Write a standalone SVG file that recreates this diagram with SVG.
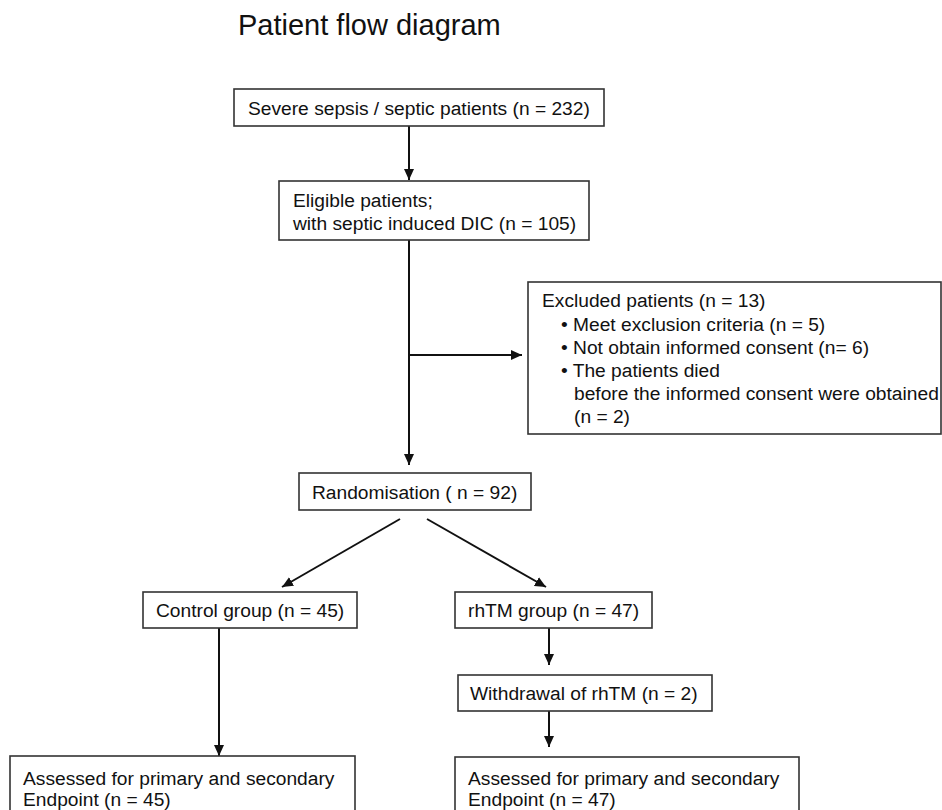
<svg xmlns="http://www.w3.org/2000/svg" width="942" height="810" viewBox="0 0 942 810">
  <style>
    .bg { fill: #ffffff; }
    .box { fill: #ffffff; stroke: #333333; stroke-width: 1.6; }
    .t { font-family: "Liberation Sans", Arial, sans-serif; font-size: 19.2px; fill: #111111; }
    .title { font-family: "Liberation Sans", Arial, sans-serif; font-size: 29px; fill: #111111; }
    .conn { stroke: #111111; stroke-width: 2; fill: none; }
  </style>
  <defs>
    <marker id="ah" markerUnits="userSpaceOnUse" markerWidth="12" markerHeight="11" refX="11" refY="5.5" orient="auto">
      <path d="M0,0.5 L11,5.5 L0,10.5 z" fill="#111111"/>
    </marker>
  </defs>
  <rect class="bg" x="0" y="0" width="942" height="810"/>
  <text class="title" x="238" y="35">Patient flow diagram</text>

  <g id="connectors">
    <path class="conn" d="M409,126 L409,180" marker-end="url(#ah)"/>
    <path class="conn" d="M409,240 L409,465" marker-end="url(#ah)"/>
    <path class="conn" d="M409,355 L522,355" marker-end="url(#ah)"/>
    <path class="conn" d="M400,519 L282,587" marker-end="url(#ah)"/>
    <path class="conn" d="M427,519 L546,587" marker-end="url(#ah)"/>
    <path class="conn" d="M219,628 L219,756" marker-end="url(#ah)"/>
    <path class="conn" d="M549,628 L549,665" marker-end="url(#ah)"/>
    <path class="conn" d="M549,711 L549,747" marker-end="url(#ah)"/>
  </g>

  <g id="severe">
    <rect class="box" x="234" y="89" width="370" height="37"/>
    <text class="t" x="248" y="115">Severe sepsis / septic patients (n = 232)</text>
  </g>
  <g id="eligible">
    <rect class="box" x="279" y="181" width="310" height="59"/>
    <text class="t" x="293" y="207">Eligible patients;</text>
    <text class="t" x="293" y="230">with septic induced DIC (n = 105)</text>
  </g>
  <g id="excluded">
    <rect class="box" x="528" y="282" width="413" height="152"/>
    <text class="t" x="542" y="307">Excluded patients (n = 13)</text>
    <text class="t" x="561" y="331">• Meet exclusion criteria (n = 5)</text>
    <text class="t" x="561" y="354">• Not obtain informed consent (n= 6)</text>
    <text class="t" x="561" y="377">• The patients died</text>
    <text class="t" x="574" y="400">before the informed consent were obtained</text>
    <text class="t" x="574" y="423">(n = 2)</text>
  </g>
  <g id="randomisation">
    <rect class="box" x="299" y="473" width="232" height="37"/>
    <text class="t" x="312" y="499">Randomisation ( n = 92)</text>
  </g>
  <g id="control">
    <rect class="box" x="143" y="592" width="214" height="36"/>
    <text class="t" x="156" y="617">Control group (n = 45)</text>
  </g>
  <g id="rhtm">
    <rect class="box" x="455" y="592" width="197" height="36"/>
    <text class="t" x="468" y="617">rhTM group (n = 47)</text>
  </g>
  <g id="withdrawal">
    <rect class="box" x="458" y="675" width="254" height="36"/>
    <text class="t" x="470" y="700">Withdrawal of rhTM (n = 2)</text>
  </g>
  <g id="assessed-control">
    <rect class="box" x="10" y="756" width="345" height="60"/>
    <text class="t" x="23" y="785">Assessed for primary and secondary</text>
    <text class="t" x="23" y="806">Endpoint (n = 45)</text>
  </g>
  <g id="assessed-rhtm">
    <rect class="box" x="455" y="757" width="344" height="60"/>
    <text class="t" x="468" y="785">Assessed for primary and secondary</text>
    <text class="t" x="468" y="806">Endpoint (n = 47)</text>
  </g>
</svg>
